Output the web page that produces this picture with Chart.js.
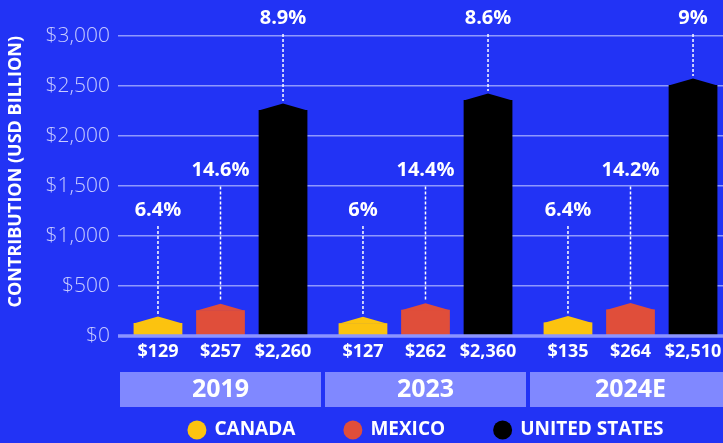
<!DOCTYPE html>
<html>
<head>
<meta charset="utf-8">
<script src="https://cdn.jsdelivr.net/npm/chart.js@4.4.1/dist/chart.umd.min.js"></script>
<style>
  html, body { margin: 0; padding: 0; background: #2233f5; overflow: hidden; }
  #myChart { display: block; }
</style>
</head>
<body>
<canvas id="myChart" width="735" height="443"></canvas>
<script>
/* global Chart */

const years = ['2019', '2023', '2024E'];
const countries = ['CANADA', 'MEXICO', 'UNITED STATES'];
const canadaValues = [129, 127, 135];
const mexicoValues = [257, 262, 264];
const usValues = [2260, 2360, 2510];
const canadaShare = ['6.4%', '6%', '6.4%'];
const mexicoShare = ['14.6%', '14.4%', '14.2%'];
const usShare = ['8.9%', '8.6%', '9%'];
const yMax = 3000;
const yStep = 500;

const FONT = "'Open Sans', sans-serif";
Chart.defaults.font.family = FONT;

function money(v) {
  return '$' + v.toLocaleString('en-US');
}

// house shaped tops, share labels with dotted leaders, value labels, year boxes, legend
const houseLabels = {
  id: 'houseLabels',
  afterDatasetsDraw(chart) {
    const ctx = chart.ctx;
    const shares = [canadaShare, mexicoShare, usShare];
    const labelY = [210, 170.5, 18];
    chart.data.datasets.forEach(function(ds, i) {
      const meta = chart.getDatasetMeta(i);
      meta.data.forEach(function(bar, j) {
        const half = bar.width / 2;
        ctx.save();
        ctx.fillStyle = ds.backgroundColor;
        ctx.beginPath();
        ctx.moveTo(bar.x - half, bar.y + 0.5);
        ctx.lineTo(bar.x, bar.y - 6.5);
        ctx.lineTo(bar.x + half, bar.y + 0.5);
        ctx.closePath();
        ctx.fill();

        // dotted leader
        ctx.strokeStyle = '#ffffff';
        ctx.lineWidth = 1.5;
        ctx.setLineDash([3, 2]);
        ctx.beginPath();
        ctx.moveTo(bar.x, labelY[i] + 16);
        ctx.lineTo(bar.x, bar.y - 9);
        ctx.stroke();
        ctx.setLineDash([]);

        ctx.fillStyle = '#ffffff';
        ctx.font = 'bold 20px ' + FONT;
        ctx.textAlign = 'center';
        ctx.textBaseline = 'middle';
        ctx.fillText(shares[i][j], bar.x, labelY[i]);

        ctx.font = 'bold 18px ' + FONT;
        ctx.fillText(money(ds.data[j]), bar.x, 352);
        ctx.restore();
      });
    });

    // baseline at zero
    const yScale = chart.scales.y;
    const area = chart.chartArea;
    const y0 = yScale.getPixelForValue(0);
    ctx.save();
    ctx.strokeStyle = '#8c94ff';
    ctx.lineWidth = 3.5;
    ctx.beginPath();
    ctx.moveTo(area.left, y0);
    ctx.lineTo(area.right + 10, y0);
    ctx.stroke();
    ctx.restore();

    // year boxes
    const xScale = chart.scales.x;
    const catWidth = xScale.width / years.length;
    years.forEach(function(year, j) {
      const cx = xScale.getPixelForValue(j);
      ctx.save();
      ctx.fillStyle = '#8088ff';
      ctx.fillRect(cx - catWidth / 2 + 2, 372, catWidth - 4, 35);
      ctx.fillStyle = '#ffffff';
      ctx.font = 'bold 25px ' + FONT;
      ctx.textAlign = 'center';
      ctx.textBaseline = 'middle';
      ctx.fillText(year, cx, 390);
      ctx.restore();
    });

    // legend, centred under the plot area
    ctx.save();
    ctx.font = 'bold 19px ' + FONT;
    ctx.textBaseline = 'middle';
    ctx.textAlign = 'left';
    const gap = 48;
    const radius = 9.5;
    const widths = chart.data.datasets.map(function(ds) {
      return radius * 2 + 8 + ctx.measureText(ds.label).width;
    });
    const total = widths.reduce(function(a, b) { return a + b; }, 0) + gap * (widths.length - 1);
    let x = (area.left + area.right) / 2 - total / 2;
    chart.data.datasets.forEach(function(ds, i) {
      ctx.fillStyle = ds.backgroundColor;
      ctx.beginPath();
      ctx.arc(x + radius, 430, radius, 0, Math.PI * 2);
      ctx.fill();
      ctx.fillStyle = '#ffffff';
      ctx.fillText(ds.label, x + radius * 2 + 8, 430);
      x += widths[i] + gap;
    });
    ctx.restore();
  }
};

const ctx = document.getElementById('myChart').getContext('2d');

const chart = new Chart(ctx, {
  type: 'bar',
  data: {
    labels: years,
    datasets: [{
      label: countries[0],
      backgroundColor: '#fcc30f',
      borderWidth: 0,
      data: canadaValues,
    },
    {
      label: countries[1],
      backgroundColor: '#e04e3a',
      borderWidth: 0,
      data: mexicoValues,
    },
    {
      label: countries[2],
      backgroundColor: '#000000',
      borderWidth: 0,
      data: usValues,
    }]
  },
  options: {
    responsive: false,
    animation: false,
    categoryPercentage: 0.915,
    barPercentage: 0.78,
    layout: {
      padding: { top: 36, right: 2, left: 0, bottom: 0 }
    },
    plugins: {
      tooltip: { enabled: false },
      legend: { display: false }
    },
    scales: {
      x: {
        grid: { display: false },
        border: { display: false },
        ticks: { display: false },
        afterFit: function(scale) { scale.height = 107; }
      },
      y: {
        min: 0,
        max: yMax,
        afterFit: function(scale) { scale.width = 118; },
        border: { display: false },
        grid: {
          drawTicks: false,
          lineWidth: 1.5,
          color: function(c) {
            return c.tick && c.tick.value === 0 ? 'rgba(0,0,0,0)' : 'rgba(180,188,255,0.75)';
          }
        },
        ticks: {
          stepSize: yStep,
          padding: 8,
          color: '#c8ccff',
          font: { size: 21, weight: 300 },
          callback: function(v) { return money(v); }
        },
        title: {
          display: true,
          text: 'CONTRIBUTION (USD BILLION)',
          color: '#ffffff',
          align: 'end',
          font: { size: 18, weight: 'bold' },
          padding: { top: 5, bottom: 0 }
        }
      }
    }
  },
  plugins: [houseLabels]
});
console.log(chart);
</script>
</body>
</html>
